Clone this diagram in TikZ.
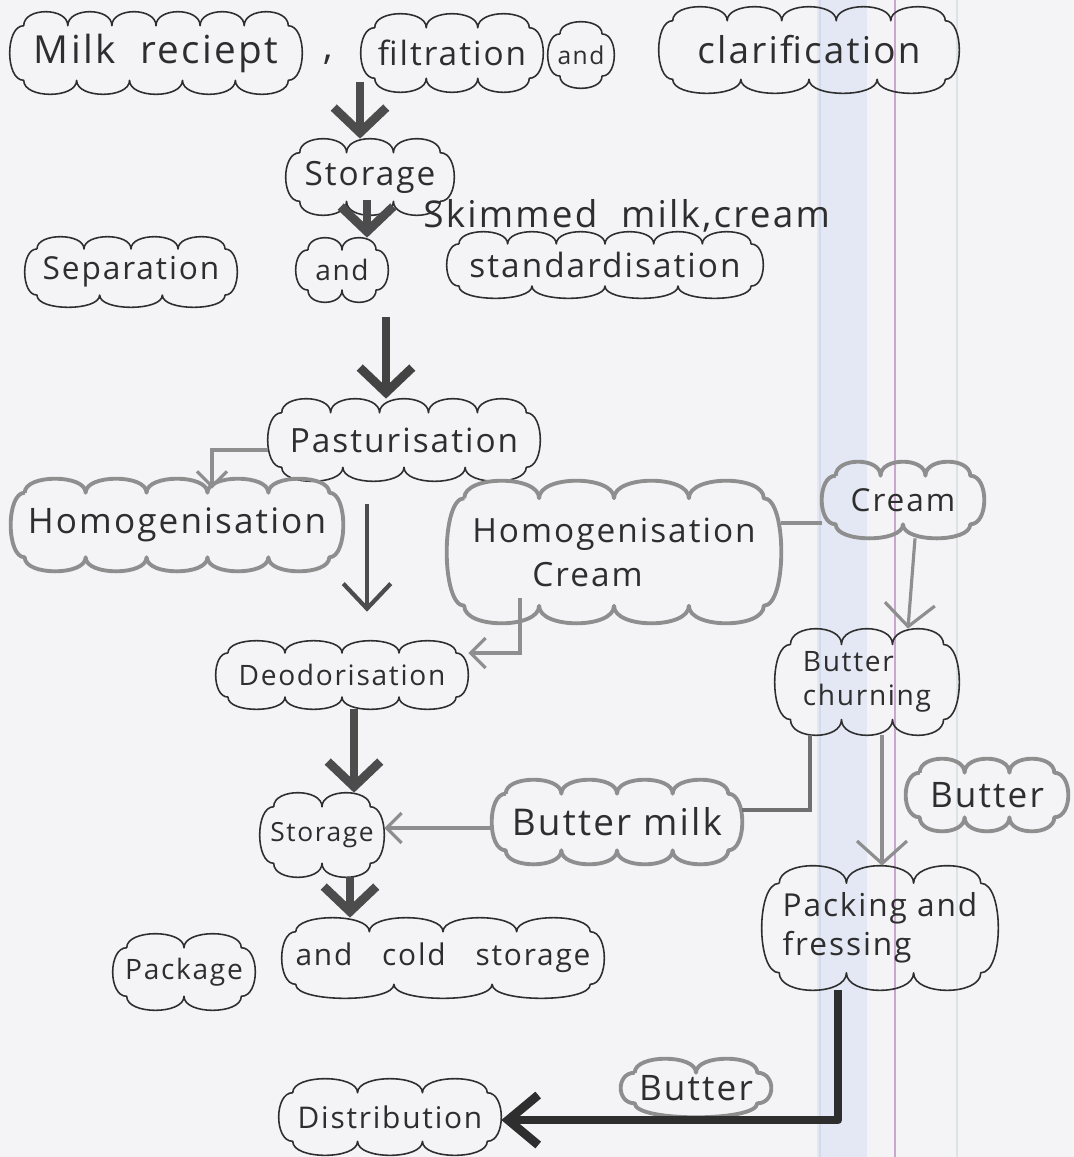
\documentclass[tikz,border=0pt]{standalone}
\usepackage{fontspec}
\setmainfont{Open Sans}[LetterSpace=6]
\usetikzlibrary{calc,arrows.meta}
\definecolor{paper}{HTML}{F4F4F7}
\definecolor{band}{HTML}{E3E8F4}
\definecolor{bandedge}{HTML}{D3DAEB}
\definecolor{margin}{HTML}{C8A6CF}
\definecolor{rule}{HTML}{DCE2E6}
\definecolor{ink}{HTML}{2E2E2E}
\definecolor{pendark}{HTML}{4C4C4C}
\definecolor{pencil}{HTML}{8E8E8E}
\tikzset{
  box/.style={inner sep=0pt, text=ink},
  sz/.style 2 args={minimum width=#1*0.02cm, minimum height=#2*0.02cm},
  thin/.style={draw=ink, line width=0.9pt, line join=round},
  pencloud/.style={draw=pencil, line width=2.2pt, line join=round},
  f14/.style={font=\fontsize{14}{17}\selectfont},
  f15/.style={font=\fontsize{15}{18}\selectfont},
  f16/.style={font=\fontsize{16}{19}\selectfont},
  f17/.style={font=\fontsize{17}{20}\selectfont},
  f18/.style={font=\fontsize{18}{22}\selectfont},
  f19/.style={font=\fontsize{19}{23}\selectfont},
  f20/.style={font=\fontsize{20}{24}\selectfont},
  f21/.style={font=\fontsize{21}{25}\selectfont},
  f22/.style={font=\fontsize{22}{26}\selectfont},
  bigarr/.style={draw=pendark, line width=5pt, -{Straight Barb[length=0.5cm,width=1.05cm]}},
  blackarr/.style={draw=ink, line width=5pt, -{Straight Barb[length=0.6cm,width=1.0cm]}},
  midarr/.style={draw=pendark, line width=2.4pt, -{Straight Barb[length=0.5cm,width=0.95cm]}},
  grayarr/.style={draw=pencil, line width=1.8pt, -{Straight Barb[length=0.45cm,width=1.0cm]}},
  smallgray/.style={draw=pencil, line width=1.8pt, -{Straight Barb[length=0.3cm,width=0.6cm]}},
  grayline/.style={draw=pencil, line width=2.4pt},
  darkline/.style={draw=pendark!80, line width=1.8pt},
}
% cloud outline drawn round a named rectangular node:
% #1 node, #2 top bumps, #3 bottom bumps, #4 style, #5 bump depth (pt)
\newcommand{\cloudify}[5]{%
  \draw[#4] let \p1=(#1.north west), \p2=(#1.south east),
    \n1={(\x2-\x1-2*#5pt)/#2}, \n2={(\x2-\x1-2*#5pt)/#3},
    \n3={\y1-\y2-2*#5pt}, \n4={1.33*#5pt} in
    (\x1+#5pt,\y1-#5pt)
    \foreach \i in {1,...,#2} { .. controls +(0pt,\n4) and +(0pt,\n4) .. ++(\n1,0pt) }
    .. controls +(\n4,0pt) and +(\n4,0pt) .. ++(0pt,-\n3)
    \foreach \i in {1,...,#3} { .. controls +(0pt,-\n4) and +(0pt,-\n4) .. ++(-\n2,0pt) }
    .. controls +(-\n4,0pt) and +(-\n4,0pt) .. (\x1+#5pt,\y1-#5pt);
}
\begin{document}
\begin{tikzpicture}[x=0.02cm,y=-0.02cm]
\useasboundingbox (0,0) rectangle (1074,1157);
\fill[paper] (0,0) rectangle (1074,1157);
% paper artefacts
\fill[band] (817,0) rectangle (867,1157);
\draw[bandedge, line width=1pt] (820,0) -- (820,1157);
\draw[margin, line width=0.8pt] (895,0) -- (895,1157);
\draw[rule, line width=1.5pt] (957,0) -- (957,1157);

% helper coordinates (columns / rows of the connectors)
\coordinate (colA) at (360,0);
\coordinate (colB) at (367,0);
\coordinate (colC) at (386,0);
\coordinate (colE) at (520,0);
\coordinate (colF) at (810,0);
\coordinate (colG) at (882,0);
\coordinate (colH) at (354,0);
\coordinate (colI) at (350,0);
\coordinate (colJ) at (838,0);
\coordinate (hcY) at (0,523);
\coordinate (dY) at (0,653);
\coordinate (bY) at (0,810);
\coordinate (bY2) at (0,828);
\coordinate (dY2) at (0,1120);

% nodes
\node[box, sz={292}{82}, f22] (milk) at (156,53) {Milk\ \ reciept};
\node[box, f22] (comma) at (328,60) {,};
\node[box, sz={182}{78}, f19] (filt) at (452,53) {filtration};
\node[box, sz={66}{66}, f14] (andA) at (581,55) {and};
\node[box, sz={300}{86}, f21] (clar) at (809,50) {clarification};
\node[box, sz={168}{76}, f19] (stA) at (370,177) {Storage};
\node[box, f21, anchor=base west] (skim) at (423,227) {Skimmed\ \ milk,cream};
\node[box, sz={212}{70}, f18] (sep) at (131,272) {Separation};
\node[box, sz={92}{64}, f16] (andB) at (342,270) {and};
\node[box, sz={316}{66}, f19] (std) at (605,265) {standardisation};
\node[box, sz={272}{82}, f19] (past) at (404,440) {Pasturisation};
\node[box, sz={332}{92}, f20] (homl) at (177,525) {Homogenisation};
\node[box, sz={334}{142}, f19, align=left] (homc) at (614,552) {Homogenisation\\[2pt]\hspace*{1.2cm}Cream};
\node[box, sz={162}{76}, f18] (cream) at (903,500) {Cream};
\node[box, sz={184}{106}, f16, align=left] (churn) at (867,682) {Butter\\churning};
\node[box, sz={252}{68}, f16] (deod) at (342,675) {Deodorisation};
\node[box, sz={124}{84}, f15] (stB) at (322,835) {Storage};
\node[box, sz={250}{84}, f21] (bmilk) at (617,822) {Butter milk};
\node[box, sz={162}{72}, f20] (butA) at (987,795) {Butter};
\node[box, sz={236}{124}, f18, align=left] (pack) at (880,928) {Packing and\\fressing};
\node[box, sz={142}{76}, f16] (pkg) at (184,972) {Package};
\node[box, sz={322}{80}, f17] (acs) at (443,958) {and\quad cold\quad storage};
\node[box, sz={150}{58}, f20] (butB) at (696,1088) {Butter};
\node[box, sz={222}{76}, f17] (dist) at (390,1117) {Distribution};

% cloud outlines
\cloudify{milk}{6}{5}{thin}{8}
\cloudify{filt}{3}{3}{thin}{8}
\cloudify{andA}{1}{1}{thin}{7}
\cloudify{clar}{5}{4}{thin}{8}
\cloudify{stA}{3}{3}{thin}{8}
\cloudify{sep}{4}{3}{thin}{7}
\cloudify{andB}{2}{2}{thin}{7}
\cloudify{std}{6}{4}{thin}{7}
\cloudify{past}{5}{4}{thin}{8}
\cloudify{homl}{5}{5}{pencloud}{8}
\cloudify{homc}{4}{4}{pencloud}{10}
\cloudify{cream}{3}{2}{pencloud}{8}
\cloudify{churn}{3}{3}{thin}{9}
\cloudify{deod}{4}{4}{thin}{7}
\cloudify{stB}{2}{2}{thin}{8}
\cloudify{bmilk}{4}{4}{pencloud}{8}
\cloudify{butA}{3}{3}{pencloud}{8}
\cloudify{pack}{3}{3}{thin}{10}
\cloudify{pkg}{2}{2}{thin}{8}
\cloudify{acs}{4}{3}{thin}{8}
\cloudify{butB}{2}{1}{pencloud}{8}
\cloudify{dist}{3}{3}{thin}{8}

% connectors
\draw[bigarr, shorten <=-0.2cm] (filt.south -| colA) -- (stA.north -| colA);
\draw[bigarr, shorten <=-0.3cm] (stA.south -| colB) -- (andB.north -| colB);
\draw[bigarr, draw=ink!90, shorten <=0.3cm] (andB.south -| colC) -- (past.north -| colC);
\draw[smallgray, shorten >=-0.2cm] ([yshift=-0.2cm]past.west) -| ([xshift=0.7cm]homl.north);
\draw[midarr, shorten <=0.46cm, shorten >=0.58cm] (past.south -| colB) -- (deod.north -| colB);
\draw[grayline] (homc.east |- hcY) -- (cream.west |- hcY);
\draw[grayarr] ([xshift=0.24cm]cream.south) -- ([xshift=0.82cm]churn.north);
\draw[smallgray, shorten <=-0.5cm] (homc.south -| colE) |- (deod.east |- dY);
\draw[bigarr] (deod.south -| colH) -- (stB.north -| colH);
\draw[darkline] (churn.south -| colF) |- (bmilk.east |- bY);
\draw[smallgray] (bmilk.west |- bY2) -- (stB.east |- bY2);
\draw[grayarr] (churn.south -| colG) -- (pack.north -| colG);
\draw[bigarr] (stB.south -| colI) -- (acs.north -| colI);
\draw[blackarr, line join=round] (pack.south -| colJ) |- (dist.east |- dY2);
\end{tikzpicture}
\end{document}
